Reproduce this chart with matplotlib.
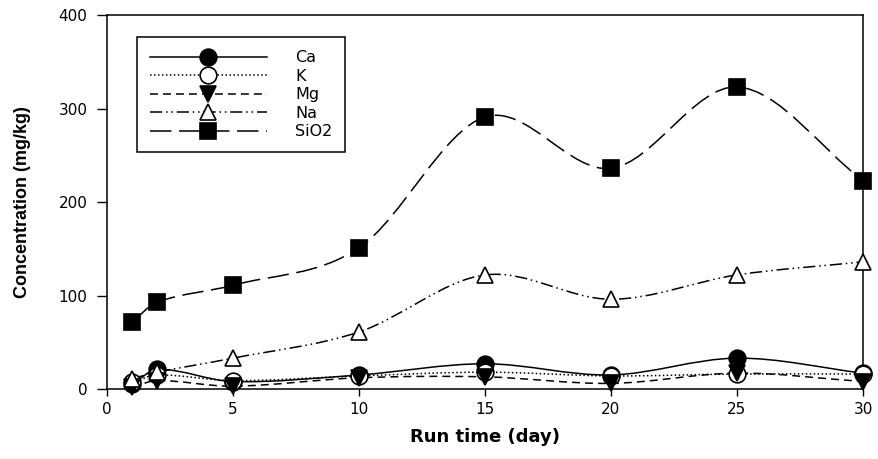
import matplotlib
matplotlib.use("Agg")
import matplotlib.pyplot as plt
from matplotlib.path import Path
from matplotlib.patches import PathPatch
from matplotlib.lines import Line2D
import numpy as np

plt.rcParams['font.family'] = ['DejaVu Sans']

# datos
dias = [1, 2, 5, 10, 15, 20, 25, 30]
ca = [5, 21, 8, 15, 27, 15, 33, 17]
k = [7, 15, 9, 14, 18, 14, 16, 16]
mg = [2, 9, 3, 12, 13, 6, 17, 8]
na = [11, 18, 33, 61, 122, 96, 122, 136]
sio2 = [72, 93, 111, 151, 291, 236, 323, 223]

series = [
    ("Ca", ca, 'o', 'black', '-'),
    ("K", k, 'o', 'white', (0, (1, 1.6))),
    ("Mg", mg, 'v', 'black', (0, (5.2, 3.3))),
    ("Na", na, '^', 'white', (0, (8, 2.5, 1, 2.5, 1, 2.5))),
    ("SiO2", sio2, 's', 'black', (0, (14, 5))),
]
msizes = {'o': 12, 'v': 12, '^': 12, 's': 11}


def curva_suave(x, y):
    # spline tipo Hermite dibujado con curvas bezier
    x = np.asarray(x, float)
    y = np.asarray(y, float)
    n = len(x)
    m = np.zeros(n)
    for i in range(n):
        if i == 0:
            m[i] = (y[1] - y[0]) / (x[1] - x[0])
        elif i == n - 1:
            m[i] = (y[-1] - y[-2]) / (x[-1] - x[-2])
        else:
            m[i] = (y[i + 1] - y[i - 1]) / (x[i + 1] - x[i - 1])
    verts = [(x[0], y[0])]
    codes = [Path.MOVETO]
    for i in range(n - 1):
        h = x[i + 1] - x[i]
        verts += [(x[i] + h / 3, y[i] + m[i] * h / 3),
                  (x[i + 1] - h / 3, y[i + 1] - m[i + 1] * h / 3),
                  (x[i + 1], y[i + 1])]
        codes += [Path.CURVE4] * 3
    return Path(verts, codes)


fig = plt.figure(figsize=(8.79, 4.59), dpi=100, facecolor='white')
ax = fig.add_axes([0.1217, 0.1525, 0.8601, 0.8148])

handles = []
for nombre, vals, mk, fc, ls in series:
    patch = PathPatch(curva_suave(dias, vals), facecolor='none', edgecolor='black',
                      lw=1.1, linestyle=ls, zorder=2)
    ax.add_patch(patch)
    ax.plot(dias, vals, linestyle='none', marker=mk, ms=msizes[mk], mfc=fc,
            mec='black', mew=1.2, clip_on=False, zorder=3)
    handles.append(Line2D([], [], color='black', lw=1.1, linestyle=ls, marker=mk,
                          ms=msizes[mk], mfc=fc, mec='black', mew=1.2, label=nombre))

ax.set_xlim(0, 30)
ax.set_ylim(0, 400)
ax.set_xticks([0, 5, 10, 15, 20, 25, 30])
ax.set_yticks([0, 100, 200, 300, 400])
ax.tick_params(direction='out', width=1, labelsize=11, top=False, right=False)
ax.tick_params(axis='y', length=7, pad=7)
ax.tick_params(axis='x', length=5, pad=4)
for s in ax.spines.values():
    s.set_linewidth(1.1)

ax.set_xlabel("Run time (day)", fontsize=13, fontweight='bold', labelpad=8)
ax.set_ylabel("Concentration (mg/kg)", fontsize=13, fontweight='bold', labelpad=20,
              family='Liberation Sans')

leg = ax.legend(handles=handles, loc='upper left', bbox_to_anchor=(0.04, 0.94),
                numpoints=1, handlelength=7.3, handletextpad=1.8, labelspacing=0.22,
                borderpad=0.8, borderaxespad=0, fontsize=11.5, fancybox=False,
                framealpha=1, edgecolor='black')
leg.get_frame().set_linewidth(1.1)

fig.savefig("out.png", dpi=100)
